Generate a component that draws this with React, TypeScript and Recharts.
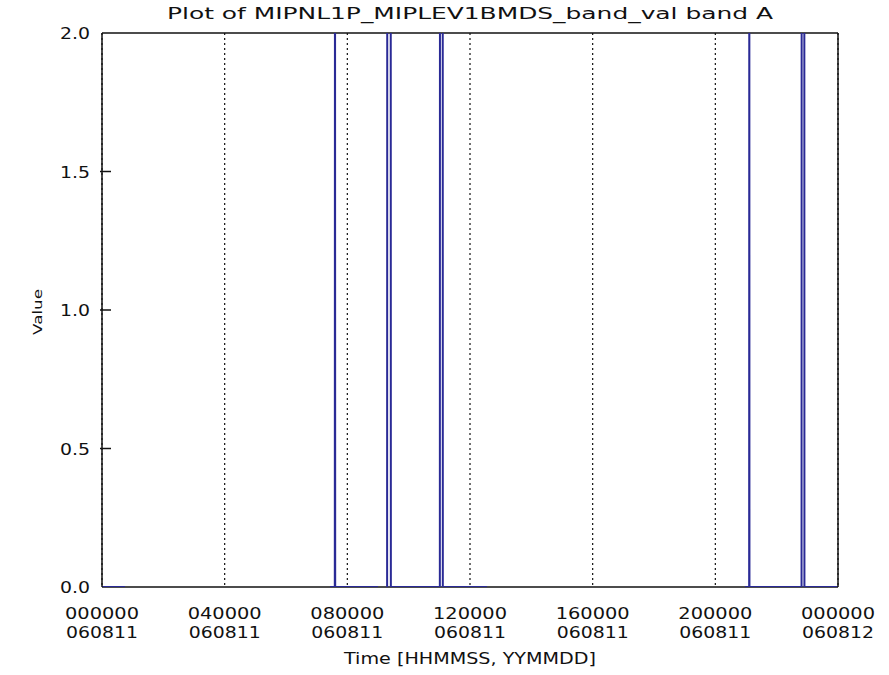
import React from "react";
import {
  LineChart,
  Line,
  XAxis,
  YAxis,
  CartesianGrid,
} from "recharts";

// seconds since 000000 on 060811
const times = [
  0, 2700, 2701,
  26765, 27330, 27352, 27375, 32400, 32401,
  33470, 33491, 33890, 33910, 39660, 39678, 39995, 40010, 45196, 45197,
  75480, 75970, 75988, 76005, 82120, 82138, 82443, 82460, 86400,
];
const values = [
  0, 0, null,
  0, 0, 3, 0, 0, null,
  0, 3, 3, 0, 0, 3, 3, 0, 0, null,
  0, 0, 3, 0, 0, 3, 3, 0, 0,
];

const xTicks = [0, 14400, 28800, 43200, 57600, 72000, 86400];
const xTickTime = ["000000", "040000", "080000", "120000", "160000", "200000", "000000"];
const xTickDate = ["060811", "060811", "060811", "060811", "060811", "060811", "060812"];
const yTicks = [0, 0.5, 1, 1.5, 2];
const yTickLabels = ["0.0", "0.5", "1.0", "1.5", "2.0"];

const data = times.map((t, i) => ({ t, v: values[i] }));

const FONT = "'DejaVu Sans', sans-serif";
const INK = "#111";

function XTick(props: any) {
  const { x, y, payload } = props;
  const i = xTicks.indexOf(payload.value);
  return (
    <g>
      <text x={x} y={y + 30} textAnchor="middle" fontFamily={FONT} fontSize={15} fill={INK}
        textLength={74} lengthAdjust="spacingAndGlyphs">{xTickTime[i]}</text>
      <text x={x} y={y + 49} textAnchor="middle" fontFamily={FONT} fontSize={15} fill={INK}
        textLength={72} lengthAdjust="spacingAndGlyphs">{xTickDate[i]}</text>
    </g>
  );
}

function YTickLeft(props: any) {
  const { x, y, payload } = props;
  const i = yTicks.indexOf(payload.value);
  return (
    <g>
      {i > 0 && i < yTicks.length - 1 && (
        <line x1={x} x2={x + 11} y1={y} y2={y} stroke={INK} strokeWidth={1.5} />
      )}
      <text x={x - 10} y={y + 6} textAnchor="end" fontFamily={FONT} fontSize={15} fill={INK}
        textLength={30} lengthAdjust="spacingAndGlyphs">{yTickLabels[i]}</text>
      {i === yTicks.length - 1 && (
        // chart title, placed above the top of the plot
        <text x={470} y={19} textAnchor="middle" fontFamily={FONT} fontSize={16} fill={INK}
          textLength={606} lengthAdjust="spacingAndGlyphs">
          Plot of MIPNL1P_MIPLEV1BMDS_band_val band A
        </text>
      )}
    </g>
  );
}

function YTickRight(props: any) {
  const { x, y, payload } = props;
  const i = yTicks.indexOf(payload.value);
  if (i <= 0 || i >= yTicks.length - 1) return <g />;
  return <line x1={x} x2={x - 11} y1={y} y2={y} stroke={INK} strokeWidth={1.5} />;
}

export default function App() {
  return (
    <div style={{ position: "absolute", left: 0, top: 0, background: "#fff" }}>
      <LineChart width={889} height={675} data={data}
        margin={{ top: 33, right: 0, bottom: 0, left: 0 }}>
        <CartesianGrid horizontal={false} stroke={INK} strokeDasharray="2 3" strokeWidth={1.2} />
        {/* solid frame top and bottom, drawn under the series */}
        <CartesianGrid vertical={false} stroke={INK} strokeWidth={1.5}
          horizontalCoordinatesGenerator={({ offset }: any) => [offset.top, offset.top + offset.height]} />
        <XAxis dataKey="t" type="number" domain={[0, 86400]} ticks={xTicks}
          allowDataOverflow height={88} tickSize={0} tickLine={false} interval={0}
          axisLine={false} tick={<XTick />}
          label={{
            content: (p: any) => (
              <text x={p.viewBox.x + p.viewBox.width / 2} y={664} textAnchor="middle"
                fontFamily={FONT} fontSize={15} fill={INK} textLength={252}
                lengthAdjust="spacingAndGlyphs">Time [HHMMSS, YYMMDD]</text>
            ),
          }} />
        <YAxis type="number" domain={[0, 2]} ticks={yTicks} allowDataOverflow width={102}
          tickSize={0} tickLine={false} interval={0}
          axisLine={{ stroke: INK, strokeWidth: 1.5 }} tick={<YTickLeft />}
          label={{
            content: () => (
              <text x={38} y={312} textAnchor="middle" fontFamily={FONT} fontSize={12}
                fill={INK} transform="rotate(-90 38 312)" dy={4} textLength={46}
                lengthAdjust="spacingAndGlyphs">Value</text>
            ),
          }} />
        <YAxis yAxisId="r" orientation="right" type="number" domain={[0, 2]} ticks={yTicks}
          width={51} tickSize={0} tickLine={false} interval={0}
          axisLine={{ stroke: INK, strokeWidth: 1.5 }} tick={<YTickRight />} />
        <Line type="linear" dataKey="v" stroke="#2a2a96" strokeWidth={2} dot={false}
          activeDot={false} connectNulls={false} isAnimationActive={false} />
      </LineChart>
    </div>
  );
}
